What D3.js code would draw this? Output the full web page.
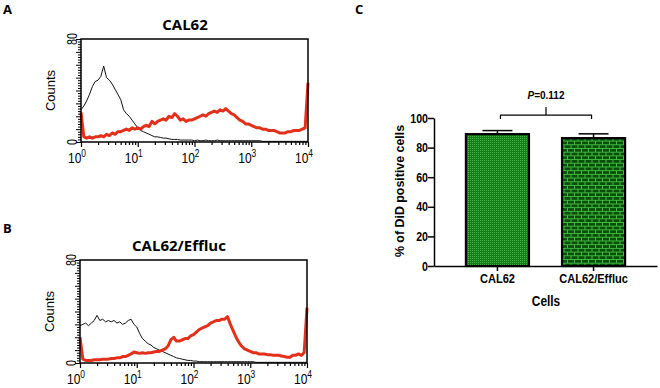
<!DOCTYPE html>
<html>
<head>
<meta charset="utf-8">
<script src="https://cdn.jsdelivr.net/npm/d3@7"></script>
<style>
  body { margin: 0; background: #fff; }
  svg { display: block; }
  text { font-family: "Liberation Sans", Arial, sans-serif; fill: #000; }
  .title { font-family: "Open Sans", sans-serif; font-weight: 700; }
</style>
</head>
<body>
<svg id="fig" width="660" height="388"></svg>
<script>
// Histogram bins, position in decades of fluorescence (10^0 ... 10^4)
const binDecades = d3.range(0, 4.0001, 0.05);

// Counts (black = control, red = DiD)
const calControl = [25, 28, 32, 37, 43, 47, 48, 51, 59, 50,
  48, 45, 41, 37, 33, 25, 22, 20, 17, 14,
  11, 9, 8, 7, 6, 5, 4, 4, 3.5, 3,
  3, 2.5, 2, 2, 2, 1.5, 1.5, 1.5, 1.5, 1.5,
  1, 1.5, 1, 1, 1.5, 1, 1, 1, 1.5, 1,
  1, 1, 1, 1, 1, 1, 1, 1, 1, 1,
  1, 1, 1, 1, 0.5, 0.5, 0.5, 0.5, 0.5, 0.5,
  0.5, 0.5, 0.5, 0.5, 0.5, 0.5, 0.5, 0.5, 0.5, 0.5,
  0.5];
const calDid = [23, 4, 3, 4, 3, 4, 4, 5, 4, 6,
  5, 7, 6, 8, 8, 9, 10, 9, 11, 10,
  11, 10, 12, 13, 12, 16, 14, 16, 17, 18,
  17, 20, 19, 22, 20, 17, 18, 16, 17, 17,
  18, 19, 20, 21, 20, 22, 23, 24, 23, 25,
  24, 26, 24, 22, 21, 19, 17, 16, 14, 14,
  13, 12, 11, 11, 10, 10, 9, 9, 9, 8,
  7, 7, 7, 8, 8, 9, 9, 9, 10, 11,
  46];
const effControl = [29, 30, 31, 29, 31, 33, 37, 33, 34, 32,
  33, 32, 33, 31, 32, 30, 31, 33, 34, 30,
  28, 23, 19, 17, 15, 14, 12, 11, 10, 9,
  8, 7, 6, 5, 4, 3.5, 3, 2.5, 2, 2,
  1.5, 1.5, 1, 1, 1, 1, 1, 1, 1, 1,
  1, 1, 1, 1, 1, 1, 1, 1, 1, 1,
  1, 1, 0.5, 0.5, 0.5, 0.5, 0.5, 0.5, 0.5, 0.5,
  0.5, 0.5, 0.5, 0.5, 0.5, 0.5, 0.5, 0.5, 0.5, 0.5,
  0.5];
const effDid = [20, 3, 2, 2, 2, 2.5, 2.5, 2.5, 3, 3,
  3, 3.5, 3.5, 4, 4, 5, 5, 6, 7, 8.5,
  8, 7.5, 8, 7.5, 8, 8, 8.5, 9, 9, 10,
  11, 13, 18, 20, 17, 17, 18, 19, 19, 21,
  22, 24, 26, 27, 28, 29, 31, 32, 33, 33,
  34, 34, 36, 30, 25, 20, 16, 13, 11, 10,
  9, 8, 8, 7, 7, 7, 6.5, 6.5, 6, 6,
  6, 5.5, 5, 4.5, 4.5, 6, 6, 7, 6, 8,
  43];

const histDecadeTicks = [1, 10, 100, 1000, 10000];
const histExponents = ["0", "1", "2", "3", "4"];
const histCountTicks = [0, 80];

// Bar chart (panel C)
const cells = ["CAL62", "CAL62/Effluc"];
const didPositive = [89.1, 86.4];
const didSem = [2.4, 2.9];
const percentTicks = [0, 20, 40, 60, 80, 100];
const pText = "=0.112";

const svg = d3.select("#fig");
svg.append("rect").attr("width", 660).attr("height", 388).attr("fill", "#fff");

// squished text helper (the source figure is slightly condensed)
function label(g, x, y, txt, size, sx, anchor, weight, rot) {
  return g.append("text")
    .attr("transform", `translate(${x},${y})` + (rot ? ` rotate(${rot})` : "") + ` scale(${sx},1)`)
    .attr("text-anchor", anchor || "middle")
    .attr("font-size", size)
    .attr("font-weight", weight || 400)
    .text(txt);
}

function drawHist(cfg) {
  const g = svg.append("g");
  const x = d3.scaleLog().domain([1, 10000]).range([cfg.left, cfg.right]);
  const y = d3.scaleLinear().domain([0, 80]).range([cfg.bottom, cfg.top]);

  const line = d3.line()
    .x((d, i) => x(Math.pow(10, binDecades[i])))
    .y(d => y(d));

  g.append("path").datum(cfg.control)
    .attr("d", line).attr("fill", "none")
    .attr("stroke", "#111").attr("stroke-width", 1);
  g.append("path").datum(cfg.did)
    .attr("d", line).attr("fill", "none")
    .attr("stroke", "#e3301a").attr("stroke-width", 3)
    .attr("stroke-linejoin", "round");

  g.append("rect")
    .attr("x", cfg.left).attr("y", cfg.top)
    .attr("width", cfg.right - cfg.left).attr("height", cfg.bottom - cfg.top)
    .attr("fill", "none").attr("stroke", "#000").attr("stroke-width", 1.5);

  // x ticks: decades + minor log ticks
  const xAxis = d3.axisBottom(x).tickValues(x.ticks()).tickSize(3).tickFormat("");
  const xg = g.append("g").attr("transform", `translate(0,${cfg.bottom})`).call(xAxis);
  xg.select(".domain").remove();
  xg.selectAll("line").attr("stroke-width", 1.2)
    .attr("y2", d => histDecadeTicks.includes(d) ? 5 : 3);

  histDecadeTicks.forEach((v, i) => {
    const t = g.append("text")
      .attr("transform", `translate(${x(v) - 4},${cfg.bottom + 21}) scale(0.8,1)`)
      .attr("text-anchor", "middle").attr("font-size", 15);
    t.append("tspan").text("10");
    t.append("tspan").attr("font-size", 10.5).attr("dy", -6).text(histExponents[i]);
  });

  // y ticks: dense ruler on the left
  const yAxis = d3.axisLeft(y).tickValues(d3.range(0, 80.1, 2)).tickFormat("")
    .tickSize(3);
  const yg = g.append("g").attr("transform", `translate(${cfg.left},0)`).call(yAxis);
  yg.select(".domain").remove();
  yg.selectAll("line").attr("stroke-width", 1)
    .attr("x2", d => d % 10 === 0 ? -5 : -3);

  histCountTicks.forEach(v => {
    label(g, cfg.left - 4, y(v), String(v), 15, 0.72, "middle", 400, -90);
  });

  label(g, cfg.left - 26, (cfg.top + cfg.bottom) / 2, "Counts", 13, 1, "middle", 400, -90);

  g.append("text").attr("class", "title")
    .attr("x", cfg.titleX).attr("y", cfg.titleY)
    .attr("text-anchor", "middle").attr("font-size", 15)
    .text(cfg.title);
  g.append("text").attr("class", "title")
    .attr("x", 3).attr("y", cfg.letterY).attr("font-size", 13)
    .text(cfg.letter);
}

drawHist({ left: 81, right: 308, top: 39, bottom: 142, control: calControl, did: calDid,
  title: "CAL62", titleX: 185, titleY: 30, letter: "A", letterY: 14 });
drawHist({ left: 80, right: 307, top: 260, bottom: 363, control: effControl, did: effDid,
  title: "CAL62/Effluc", titleX: 179, titleY: 251, letter: "B", letterY: 233 });

// ---- Panel C: bar chart ----
const defs = svg.append("defs");
const dots = defs.append("pattern").attr("id", "dots")
  .attr("width", 2).attr("height", 2).attr("patternUnits", "userSpaceOnUse");
dots.append("rect").attr("width", 2).attr("height", 2).attr("fill", "#127c14");
dots.append("rect").attr("width", 1).attr("height", 1).attr("fill", "#4cb84c");

const bricks = defs.append("pattern").attr("id", "bricks")
  .attr("width", 7).attr("height", 7.4).attr("patternUnits", "userSpaceOnUse");
bricks.append("rect").attr("width", 7).attr("height", 7.4).attr("fill", "#0b4e0b");
bricks.append("path")
  .attr("d", "M0,0.5H7M0,4.2H7M0.5,0V3.7M4,3.7V7.4")
  .attr("stroke", "#40bd40").attr("stroke-width", 1);

const c = svg.append("g");
const xb = d3.scaleBand().domain(cells).range([434, 657]).paddingInner(0.344).paddingOuter(0.332);
const yb = d3.scaleLinear().domain([0, 100]).range([266, 118]);

c.selectAll("rect.bar").data(cells).join("rect")
  .attr("class", "bar")
  .attr("x", d => xb(d)).attr("width", xb.bandwidth())
  .attr("y", (d, i) => yb(didPositive[i]))
  .attr("height", (d, i) => yb(0) - yb(didPositive[i]))
  .attr("fill", (d, i) => i === 0 ? "url(#dots)" : "url(#bricks)")
  .attr("stroke", "#000").attr("stroke-width", 2.2);

// error bars (upper only)
cells.forEach((d, i) => {
  const cx = xb(d) + xb.bandwidth() / 2;
  c.append("line").attr("x1", cx).attr("x2", cx)
    .attr("y1", yb(didPositive[i])).attr("y2", yb(didPositive[i] + didSem[i]))
    .attr("stroke", "#000").attr("stroke-width", 1.5);
  c.append("line").attr("x1", cx - 15).attr("x2", cx + 15)
    .attr("y1", yb(didPositive[i] + didSem[i])).attr("y2", yb(didPositive[i] + didSem[i]))
    .attr("stroke", "#000").attr("stroke-width", 1.5);
});

c.append("g").attr("transform", "translate(434,0)")
  .call(d3.axisLeft(yb).tickValues(percentTicks).tickSize(6).tickSizeOuter(0).tickFormat(""));
c.append("g").attr("transform", "translate(0,266)")
  .call(d3.axisBottom(xb).tickSize(5).tickSizeOuter(0).tickFormat(""));
c.selectAll(".domain, .tick line").attr("stroke", "#000").attr("stroke-width", 1.5);

percentTicks.forEach(v => label(c, 428, yb(v) + 4.5, String(v), 12.5, 0.85, "end", 700));
cells.forEach(d => label(c, xb(d) + xb.bandwidth() / 2, 283, d, 13, 0.85, "middle", 700));
label(c, 546, 306, "Cells", 14, 0.85, "middle", 700);
label(c, 404, 191, "% of DiD positive cells", 12.4, 1, "middle", 700, -90);

// significance bracket
const b1 = xb(cells[0]) + xb.bandwidth() / 2 + 3;
const b2 = xb(cells[1]) + xb.bandwidth() / 2 - 2;
const bm = (b1 + b2) / 2;
c.append("path")
  .attr("d", `M${b1},${yb(99.3)}V${yb(102)}H${b2}V${yb(99.3)}M${bm},${yb(102)}V${yb(107.4)}`)
  .attr("fill", "none").attr("stroke", "#000").attr("stroke-width", 1.2);
const pt = c.append("text").attr("x", bm).attr("y", 99)
  .attr("text-anchor", "middle").attr("font-size", 10).attr("font-weight", 700);
pt.append("tspan").attr("font-style", "italic").text("P");
pt.append("tspan").text(pText);

c.append("text").attr("class", "title").attr("x", 355).attr("y", 14)
  .attr("font-size", 13).text("C");
</script>
</body>
</html>
